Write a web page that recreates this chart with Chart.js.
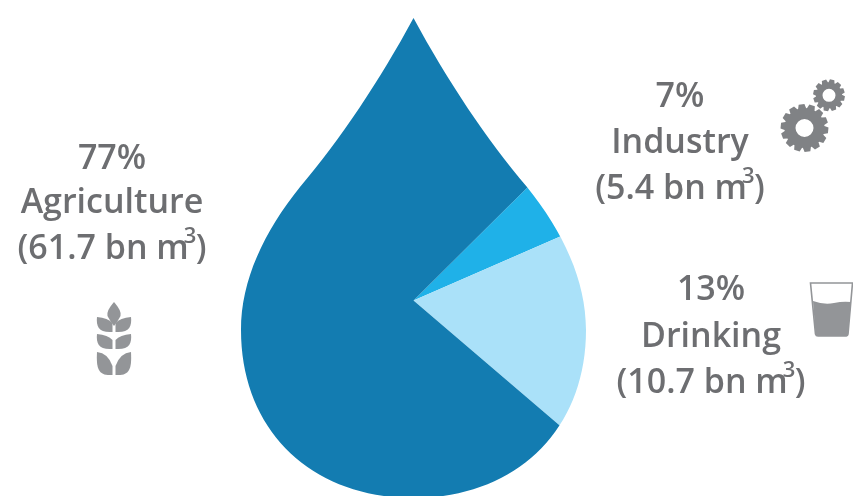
<!DOCTYPE html>
<html>
<head>
<meta charset="utf-8">
<style>
html,body{margin:0;padding:0;background:#fff;}
#wrap{position:relative;width:853px;height:496px;}
canvas{display:block;}
</style>
<script src="https://cdn.jsdelivr.net/npm/chart.js@4/dist/chart.umd.min.js"></script>
</head>
<body>
<div id="wrap"><canvas id="c" width="853" height="496"></canvas></div>
<script>
// Data
const categories = ['Industry', 'Drinking', 'Agriculture'];
const printedShares = ['7%', '13%', '77%'];
const printedVolumes = ['5.4', '10.7', '61.7'];
// Wedge sizes as they are actually drawn in the drop (percent of the circle)
const wedgeShares = [5.9, 17.8, 76.3];
const wedgeColours = ['#1fb1e8', '#aae1f9', '#137cb1'];

const GREY = '#6d6e71';
const FONT = '"Open Sans", "Noto Sans", sans-serif';
const MAIN_FONT = '600 34px ' + FONT;

const labelBlocks = [
  { i: 2, cx: 112, base: [169, 213, 259] },
  { i: 0, cx: 680, base: [107, 153, 199] },
  { i: 1, cx: 711, base: [300, 347, 393] }
];

function dropPath(ctx) {
  ctx.beginPath();
  ctx.moveTo(413.5, 18);
  ctx.bezierCurveTo(447, 80, 487, 140, 527, 187);
  ctx.bezierCurveTo(563, 232, 586, 280, 586, 330);
  ctx.bezierCurveTo(586, 432, 514, 498, 413.5, 498);
  ctx.bezierCurveTo(313, 498, 241, 432, 241, 330);
  ctx.bezierCurveTo(241, 280, 264, 232, 300, 187);
  ctx.bezierCurveTo(340, 140, 380, 80, 413.5, 18);
  ctx.closePath();
}

function drawVolumeLine(ctx, cx, y, volume) {
  const main = '(' + volume + ' bn m';
  ctx.font = MAIN_FONT;
  const w1 = ctx.measureText(main).width;
  const w3 = ctx.measureText(')').width;
  const x0 = cx - (w1 + w3 + 7) / 2;
  ctx.textAlign = 'left';
  ctx.fillText(main, x0, y);
  ctx.fillText(')', x0 + w1 + 7, y);
  ctx.font = '600 22px ' + FONT;
  ctx.fillText('3', x0 + w1 - 5, y - 16);
}

function drawLabels(ctx) {
  ctx.fillStyle = GREY;
  ctx.textBaseline = 'alphabetic';
  labelBlocks.forEach(b => {
    ctx.font = MAIN_FONT;
    ctx.textAlign = 'center';
    ctx.fillText(printedShares[b.i], b.cx, b.base[0]);
    ctx.fillText(categories[b.i], b.cx, b.base[1]);
    drawVolumeLine(ctx, b.cx, b.base[2], printedVolumes[b.i]);
  });
}

function gear(ctx, cx, cy, rOuter, rRoot, rHole, teeth, phase) {
  ctx.beginPath();
  const step = Math.PI * 2 / teeth;
  for (let k = 0; k < teeth; k++) {
    const a = phase + k * step;
    const pts = [[rRoot, -0.5], [rOuter, -0.3], [rOuter, 0.3], [rRoot, 0.5]];
    pts.forEach((p, n) => {
      const t = a + p[1] * step * 0.9;
      const x = cx + p[0] * Math.cos(t), y = cy + p[0] * Math.sin(t);
      if (k === 0 && n === 0) ctx.moveTo(x, y); else ctx.lineTo(x, y);
    });
  }
  ctx.closePath();
  ctx.moveTo(cx + rHole, cy);
  ctx.arc(cx, cy, rHole, 0, Math.PI * 2, true);
  ctx.fill('evenodd');
}

function leaf(ctx, tx, ty, bx, by, m) {
  const X = v => m ? 228 - v : v;
  ctx.beginPath();
  ctx.moveTo(X(tx), ty);
  ctx.quadraticCurveTo(X(tx + 11), ty + 1, X(bx), by - 9);
  ctx.lineTo(X(bx), by);
  ctx.bezierCurveTo(X(tx + 2), by + 1, X(tx - 1), by - 5, X(tx), ty);
  ctx.closePath();
  ctx.fill();
}

function drawIcons(ctx) {
  // wheat
  ctx.fillStyle = '#939598';
  ctx.beginPath();
  ctx.moveTo(114, 302);
  ctx.quadraticCurveTo(122, 311, 120.5, 316);
  ctx.quadraticCurveTo(118, 321, 114, 326);
  ctx.quadraticCurveTo(110, 321, 107.5, 316);
  ctx.quadraticCurveTo(106, 311, 114, 302);
  ctx.closePath();
  ctx.fill();
  [[317, 332], [334, 349], [352, 375]].forEach(r => {
    leaf(ctx, 97, r[0], 112.5, r[1], false);
    leaf(ctx, 97, r[0], 112.5, r[1], true);
  });
  // gears
  ctx.fillStyle = '#808285';
  gear(ctx, 804.5, 128, 24, 20, 9, 14, 0.1);
  gear(ctx, 829, 95.3, 16, 13, 6.5, 12, 0.2);
  // glass
  ctx.strokeStyle = '#939598';
  ctx.lineWidth = 1.6;
  ctx.beginPath();
  ctx.moveTo(810.5, 283);
  ctx.lineTo(852.5, 283);
  ctx.lineTo(848, 334);
  ctx.quadraticCurveTo(847.5, 336, 845, 336);
  ctx.lineTo(818, 336);
  ctx.quadraticCurveTo(816, 336, 815.5, 334);
  ctx.closePath();
  ctx.stroke();
  ctx.fillStyle = '#939598';
  ctx.beginPath();
  ctx.moveTo(813, 301);
  ctx.quadraticCurveTo(824, 305, 834, 303);
  ctx.quadraticCurveTo(843, 301, 851, 302);
  ctx.lineTo(848, 334);
  ctx.quadraticCurveTo(847.5, 336, 845, 336);
  ctx.lineTo(818, 336);
  ctx.quadraticCurveTo(816, 336, 815.5, 334);
  ctx.closePath();
  ctx.fill();
}

const dropClip = {
  id: 'dropClip',
  beforeDatasetsDraw(chart) {
    const ctx = chart.ctx;
    ctx.save();
    dropPath(ctx);
    ctx.clip();
  },
  afterDatasetsDraw(chart) {
    chart.ctx.restore();
  },
  afterDraw(chart) {
    const ctx = chart.ctx;
    ctx.save();
    drawLabels(ctx);
    drawIcons(ctx);
    ctx.restore();
  }
};

new Chart(document.getElementById('c'), {
  type: 'pie',
  data: {
    labels: categories,
    datasets: [{
      data: wedgeShares,
      backgroundColor: wedgeColours,
      borderWidth: 0,
      radius: 320
    }]
  },
  options: {
    responsive: false,
    animation: false,
    rotation: 45.2,
    layout: { padding: { left: 0, right: 26, top: 105, bottom: 0 } },
    events: [],
    plugins: { legend: { display: false }, tooltip: { enabled: false } }
  },
  plugins: [dropClip]
});
</script>
</body>
</html>
